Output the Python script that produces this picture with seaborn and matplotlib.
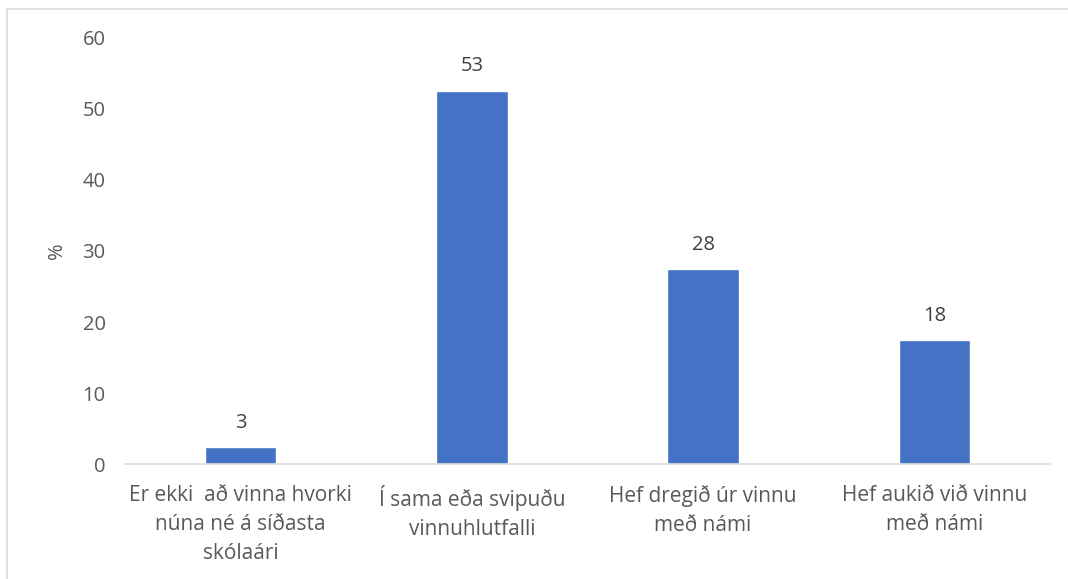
import matplotlib
matplotlib.use("Agg")
import matplotlib.pyplot as plt
import seaborn as sns
import pandas as pd
from matplotlib.patches import Rectangle

categories = [
    "Er ekki  að vinna hvorki\nnúna né á síðasta\nskólaári",
    "Í sama eða svipuðu\nvinnuhlutfalli",
    "Hef dregið úr vinnu\nmeð námi",
    "Hef aukið við vinnu\nmeð námi",
]
values = [2.4, 52.6, 27.5, 17.4]
labels = ["3", "53", "28", "18"]

df = pd.DataFrame({"cat": categories, "val": values})

sns.set_style("white")
plt.rcParams["font.family"] = ["Open Sans", "DejaVu Sans"]

fig = plt.figure(figsize=(10.68, 5.79), dpi=100)
ax = fig.add_axes([125 / 1068, 0.1986, 925 / 1068, 0.7358])

sns.barplot(data=df, x="cat", y="val", color="#4472C4", width=0.31,
            saturation=1, ax=ax)

for i, (v, lab) in enumerate(zip(values, labels)):
    ax.text(i, v + 2.0, lab, ha="center", va="bottom", fontsize=14.5, color="#404040")

ax.set_ylim(0, 60)
ax.set_xlim(-0.5, 3.5)
ax.set_yticks(range(0, 61, 10))
ax.set_xlabel("")
ax.set_ylabel("%", fontsize=14.5, color="#595959")
ax.yaxis.set_label_coords(-58 / 925, 0.5)
ax.tick_params(axis="y", length=0, labelsize=14.5, labelcolor="#595959", pad=14)
ax.tick_params(axis="x", length=0, labelsize=15, labelcolor="#595959", pad=15)
for t in ax.get_xticklabels():
    t.set_multialignment("center")
    t.set_linespacing(1.5)

for s in ["top", "right", "left"]:
    ax.spines[s].set_visible(False)
ax.spines["bottom"].set_color("#D9D9D9")
ax.spines["bottom"].set_linewidth(1.2)

# outer chart border (cropped at right/bottom)
fig.patches.append(Rectangle((7 / 1068, -0.05), 1.2, 1 - 9 / 579 + 0.05,
                             transform=fig.transFigure, fill=False,
                             edgecolor="#D9D9D9", linewidth=1.2))

fig.savefig("out.png", dpi=100)
